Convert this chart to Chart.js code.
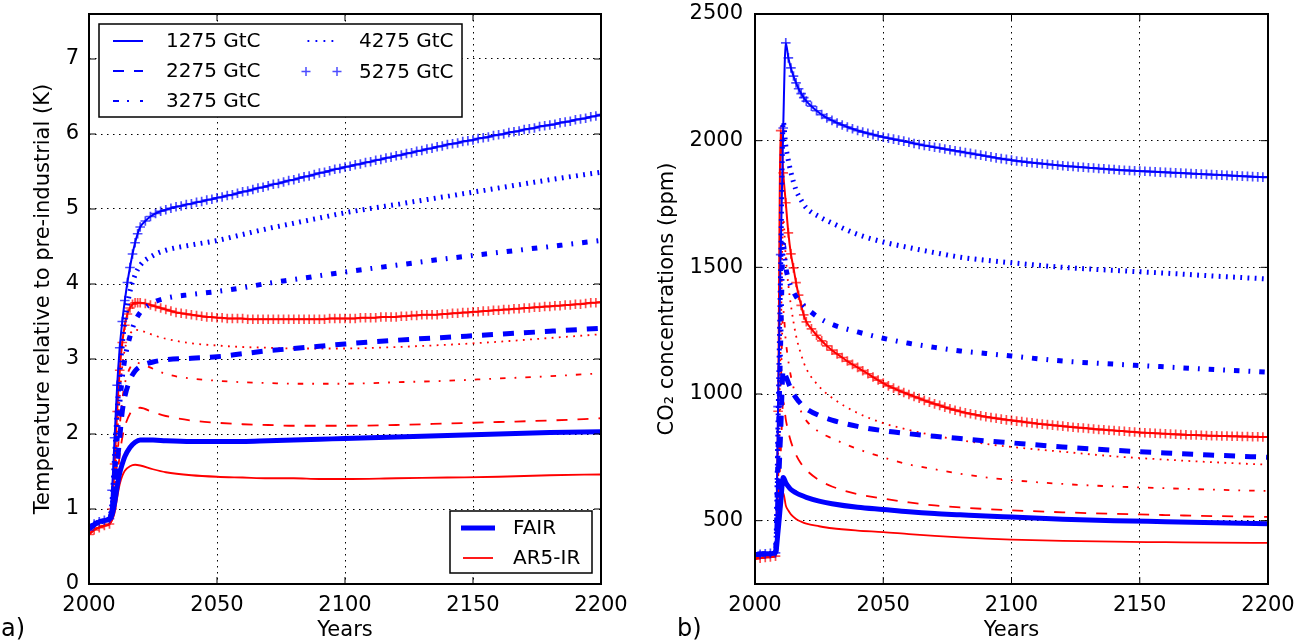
<!DOCTYPE html>
<html>
<head>
<meta charset="utf-8">
<script src="https://cdn.jsdelivr.net/npm/chart.js@4.4.1/dist/chart.umd.min.js"></script>
<style>
  html, body { margin: 0; padding: 0; background: #fff; }
  body { width: 1306px; height: 644px; position: relative; overflow: hidden; font-family: 'DejaVu Sans', sans-serif; }
  canvas { position: absolute; top: 0; }
  #left { left: 0; }
  #right { left: 650px; }
  .tag { position: absolute; font-size: 24px; line-height: 24px; color: #000; }
</style>
</head>
<body>
<canvas id="left" width="650" height="644"></canvas>
<canvas id="right" width="656" height="644"></canvas>
<div class="tag" style="left:1px; top:616px;">a)</div>
<div class="tag" style="left:677px; top:616px;">b)</div>
<script>
// Categories and ticks
const emissions = ['1275 GtC', '2275 GtC', '3275 GtC', '4275 GtC', '5275 GtC'];
const models = ['FAIR', 'AR5-IR'];
const xTicks = [2000, 2050, 2100, 2150, 2200];
const tempTicks = [0, 1, 2, 3, 4, 5, 6, 7];
const co2Ticks = [500, 1000, 1500, 2000, 2500];

// Years for the line scenarios
const years = [2000, 2004, 2008, 2009, 2010, 2011, 2012, 2013, 2014, 2016, 2018, 2020, 2025, 2030,
  2040, 2050, 2060, 2070, 2080, 2090, 2100, 2120, 2140, 2160, 2180, 2200];
// Years for the '+' marker scenario (5275 GtC)
const plusYears = [2000, 2002, 2004, 2006, 2008, 2009, 2010, 2011, 2012, 2013, 2014, 2015, 2016, 2017, 2018, 2019,
  2020, 2022, 2024, 2026, 2028, 2030, 2032, 2034, 2036, 2038,
  2040, 2042, 2044, 2046, 2048, 2050, 2052, 2054, 2056, 2058,
  2060, 2062, 2064, 2066, 2068, 2070, 2072, 2074, 2076, 2078,
  2080, 2082, 2084, 2086, 2088, 2090, 2092, 2094, 2096, 2098,
  2100, 2102, 2104, 2106, 2108, 2110, 2112, 2114, 2116, 2118,
  2120, 2122, 2124, 2126, 2128, 2130, 2132, 2134, 2136, 2138,
  2140, 2142, 2144, 2146, 2148, 2150, 2152, 2154, 2156, 2158,
  2160, 2162, 2164, 2166, 2168, 2170, 2172, 2174, 2176, 2178,
  2180, 2182, 2184, 2186, 2188, 2190, 2192, 2194, 2196, 2198, 2200];

// Temperature (K), FAIR
const tFair1275 = [0.74, 0.83, 0.87, 0.92, 1.08, 1.30, 1.48, 1.60, 1.70, 1.82, 1.89, 1.92, 1.92, 1.91, 1.90, 1.90, 1.90, 1.91, 1.92, 1.93, 1.94, 1.96, 1.98, 2.00, 2.02, 2.03];
const tFair2275 = [0.74, 0.83, 0.87, 0.97, 1.25, 1.60, 1.95, 2.30, 2.50, 2.72, 2.84, 2.90, 2.96, 2.99, 3.01, 3.03, 3.07, 3.11, 3.14, 3.17, 3.20, 3.25, 3.29, 3.33, 3.37, 3.41];
const tFair3275 = [0.74, 0.83, 0.87, 1.02, 1.45, 1.95, 2.40, 2.75, 3.00, 3.30, 3.50, 3.62, 3.75, 3.81, 3.86, 3.90, 3.95, 4.01, 4.06, 4.11, 4.16, 4.25, 4.34, 4.42, 4.50, 4.58];
const tFair4275 = [0.74, 0.83, 0.87, 1.10, 1.70, 2.30, 2.80, 3.20, 3.50, 3.90, 4.12, 4.25, 4.38, 4.45, 4.52, 4.58, 4.66, 4.74, 4.81, 4.88, 4.95, 5.06, 5.17, 5.28, 5.39, 5.49];
const tFair5275 = [0.72, 0.80, 0.83, 0.85, 0.87, 1.25, 1.95, 2.65, 3.15, 3.50, 3.78, 4.02, 4.22, 4.40, 4.55, 4.67,
  4.76, 4.84, 4.90, 4.94, 4.97, 4.99, 5.01, 5.03, 5.04, 5.06,
  5.07, 5.09, 5.10, 5.12, 5.13, 5.15, 5.16, 5.18, 5.19, 5.21,
  5.23, 5.24, 5.26, 5.28, 5.29, 5.31, 5.33, 5.34, 5.36, 5.38,
  5.39, 5.41, 5.43, 5.44, 5.46, 5.48, 5.49, 5.51, 5.53, 5.54,
  5.56, 5.57, 5.59, 5.60, 5.62, 5.63, 5.65, 5.66, 5.68, 5.69,
  5.71, 5.72, 5.74, 5.75, 5.77, 5.78, 5.80, 5.81, 5.83, 5.84,
  5.86, 5.87, 5.88, 5.90, 5.91, 5.92, 5.94, 5.95, 5.96, 5.98,
  5.99, 6.00, 6.02, 6.03, 6.04, 6.06, 6.07, 6.08, 6.10, 6.11,
  6.12, 6.13, 6.15, 6.16, 6.17, 6.19, 6.20, 6.21, 6.23, 6.24, 6.26];

// Temperature (K), AR5-IR
const tAr1275 = [0.67, 0.76, 0.80, 0.85, 0.95, 1.15, 1.33, 1.44, 1.51, 1.57, 1.59, 1.58, 1.53, 1.49, 1.45, 1.43, 1.42, 1.41, 1.41, 1.40, 1.40, 1.41, 1.42, 1.43, 1.45, 1.46];
const tAr2275 = [0.67, 0.76, 0.80, 0.86, 1.05, 1.40, 1.72, 1.95, 2.10, 2.27, 2.34, 2.35, 2.29, 2.24, 2.18, 2.15, 2.13, 2.12, 2.11, 2.11, 2.11, 2.12, 2.14, 2.16, 2.18, 2.21];
const tAr3275 = [0.67, 0.76, 0.80, 0.88, 1.15, 1.65, 2.10, 2.45, 2.67, 2.88, 2.95, 2.94, 2.87, 2.80, 2.74, 2.71, 2.69, 2.68, 2.67, 2.67, 2.67, 2.69, 2.71, 2.74, 2.77, 2.81];
const tAr4275 = [0.67, 0.76, 0.80, 0.90, 1.30, 1.95, 2.50, 2.90, 3.13, 3.33, 3.39, 3.38, 3.32, 3.27, 3.21, 3.18, 3.16, 3.15, 3.14, 3.14, 3.14, 3.16, 3.19, 3.23, 3.28, 3.33];
const tAr5275 = [0.66, 0.72, 0.75, 0.78, 0.80, 1.00, 1.60, 2.30, 2.85, 3.22, 3.45, 3.60, 3.68, 3.73, 3.75, 3.75,
  3.75, 3.74, 3.72, 3.70, 3.68, 3.66, 3.64, 3.62, 3.61, 3.60,
  3.59, 3.58, 3.57, 3.56, 3.56, 3.55, 3.55, 3.54, 3.54, 3.54,
  3.54, 3.53, 3.53, 3.53, 3.53, 3.53, 3.53, 3.53, 3.53, 3.53,
  3.53, 3.53, 3.53, 3.53, 3.53, 3.53, 3.53, 3.54, 3.54, 3.54,
  3.54, 3.54, 3.54, 3.55, 3.55, 3.55, 3.55, 3.56, 3.56, 3.56,
  3.56, 3.57, 3.57, 3.58, 3.58, 3.59, 3.59, 3.59, 3.59, 3.60,
  3.60, 3.61, 3.61, 3.62, 3.62, 3.63, 3.63, 3.64, 3.64, 3.65,
  3.65, 3.66, 3.66, 3.67, 3.67, 3.68, 3.68, 3.69, 3.69, 3.70,
  3.70, 3.71, 3.71, 3.72, 3.72, 3.73, 3.73, 3.74, 3.75, 3.75, 3.76];

// CO2 concentrations (ppm), FAIR
const cFair1275 = [366, 369, 373, 460, 570, 670, 650, 635, 623, 610, 600, 592, 577, 567, 553, 544, 535, 528, 523, 518, 514, 506, 500, 496, 492, 488];
const cFair2275 = [366, 369, 373, 600, 850, 1095, 1070, 1045, 1020, 985, 960, 942, 915, 897, 872, 855, 843, 833, 824, 815, 807, 791, 778, 767, 758, 750];
const cFair3275 = [366, 369, 373, 780, 1200, 1590, 1500, 1455, 1425, 1385, 1360, 1340, 1300, 1275, 1245, 1220, 1200, 1184, 1170, 1160, 1150, 1130, 1118, 1107, 1096, 1086];
const cFair4275 = [366, 369, 373, 900, 1500, 2075, 1980, 1922, 1875, 1805, 1765, 1735, 1700, 1675, 1630, 1600, 1578, 1558, 1540, 1528, 1518, 1500, 1488, 1477, 1465, 1454];
const cFair5275 = [366, 367, 369, 371, 373, 950, 1550, 2050, 2386, 2327, 2287, 2255, 2228, 2205, 2186, 2170,
  2156, 2136, 2118, 2103, 2090, 2080, 2070, 2062, 2054, 2047,
  2040, 2034, 2029, 2024, 2019, 2014, 2010, 2006, 2002, 1998,
  1994, 1989, 1985, 1981, 1978, 1974, 1971, 1967, 1964, 1960,
  1957, 1953, 1950, 1946, 1943, 1939, 1936, 1932, 1929, 1926,
  1923, 1920, 1918, 1915, 1913, 1911, 1909, 1907, 1905, 1903,
  1901, 1899, 1898, 1896, 1895, 1893, 1892, 1890, 1889, 1887,
  1886, 1884, 1883, 1882, 1881, 1880, 1879, 1878, 1877, 1876,
  1875, 1874, 1873, 1872, 1871, 1870, 1869, 1868, 1867, 1866,
  1865, 1864, 1863, 1862, 1861, 1860, 1859, 1858, 1857, 1856, 1856];

// CO2 concentrations (ppm), AR5-IR
const cAr1275 = [350, 355, 360, 450, 530, 611, 560, 540, 525, 507, 496, 488, 478, 470, 461, 455, 447, 440, 434, 429, 425, 420, 417, 415, 413, 412];
const cAr2275 = [350, 355, 360, 560, 760, 970, 900, 850, 812, 760, 725, 700, 660, 635, 605, 587, 572, 560, 552, 546, 541, 533, 527, 522, 518, 515];
const cAr3275 = [350, 355, 360, 650, 1000, 1330, 1210, 1130, 1070, 990, 930, 895, 850, 825, 783, 750, 722, 703, 685, 671, 660, 645, 635, 628, 622, 617];
const cAr4275 = [350, 355, 360, 750, 1200, 1690, 1540, 1430, 1350, 1230, 1155, 1100, 1030, 985, 925, 885, 858, 836, 818, 803, 791, 772, 754, 741, 730, 721];
const cAr5275 = [350, 352, 355, 357, 360, 932, 2040, 1873, 1755, 1636, 1553, 1498, 1440, 1390, 1350, 1312,
  1285, 1257, 1232, 1210, 1190, 1173, 1158, 1144, 1130, 1117,
  1105, 1092, 1080, 1067, 1055, 1043, 1032, 1023, 1014, 1006,
  998, 990, 983, 975, 968, 961, 955, 948, 942, 936,
  931, 926, 922, 918, 914, 910, 907, 904, 901, 898,
  896, 893, 891, 888, 886, 883, 881, 879, 877, 875,
  873, 871, 869, 867, 866, 864, 862, 860, 859, 857,
  856, 854, 853, 851, 850, 848, 847, 846, 845, 844,
  843, 842, 841, 840, 839, 838, 838, 837, 836, 835,
  835, 834, 834, 833, 833, 832, 832, 831, 831, 830, 830];

const BLUE = '#0000ff';
const RED = '#ff0000';
const BLUE_MARK = 'rgba(0, 0, 255, 0.7)';
const RED_MARK = 'rgba(255, 0, 0, 0.7)';
// solid, dashed, dash-dot, dotted, plus markers
const dashes = [[], [11, 10], [5.5, 9, 1.8, 9], [1.8, 5.4], []];
const legendDashes = [[], [11, 10], [6, 8, 2, 11], [1.8, 6.2], []];

Chart.defaults.font.family = "'DejaVu Sans', sans-serif";
Chart.defaults.font.size = 21;
Chart.defaults.color = '#000';

function series(xs, ys, k, thick) {
    const plus = k === 4;
    const color = thick ? BLUE : RED;
    return {
        label: emissions[k] + ' ' + (thick ? models[0] : models[1]),
        data: xs.map((x, i) => ({ x: x, y: ys[i] })),
        borderColor: color,
        backgroundColor: color,
        borderWidth: plus ? 2 : (thick ? 5 : 1.8),
        borderDash: dashes[k],
        pointStyle: 'cross',
        pointRadius: plus ? 4.8 : 0,
        pointBorderWidth: plus ? 1.7 : 0,
        pointBorderColor: thick ? BLUE_MARK : RED_MARK,
        pointHoverRadius: 0,
        cubicInterpolationMode: 'monotone',
        fill: false
    };
}

// frame, inward ticks and legend boxes (canvas coordinates)
const decorConfig = {
    left: {
        yTicks: tempTicks,
        boxes: [
            { x: 99, y: 24, w: 363, h: 93, items: [
                { k: 0, color: BLUE, width: 2, x0: 113, x1: 143, tx: 166, y: 41 },
                { k: 1, color: BLUE, width: 2, x0: 113, x1: 143, tx: 166, y: 71 },
                { k: 2, color: BLUE, width: 2, x0: 113, x1: 143, tx: 166, y: 101 },
                { k: 3, color: BLUE, width: 2, x0: 307.5, x1: 334, tx: 359, y: 41 },
                { k: 4, color: BLUE_MARK, width: 1.5, x0: 306, x1: 337, tx: 359, y: 71.5 }
            ] },
            { x: 450, y: 511, w: 142, h: 62, items: [
                { m: 0, color: BLUE, width: 5, x0: 461, x1: 495, tx: 513, y: 528 },
                { m: 1, color: RED, width: 1.8, x0: 463, x1: 493, tx: 513, y: 558 }
            ] }
        ]
    },
    right: { yTicks: co2Ticks, boxes: [] }
};

const decor = {
    id: 'decor',
    afterDraw(chart) {
        const cfg = decorConfig[chart.canvas.id];
        const { ctx, chartArea: a } = chart;
        const xs = chart.scales.x, ys = chart.scales.y;
        ctx.save();
        ctx.strokeStyle = '#000';
        ctx.lineWidth = 1;
        ctx.beginPath();
        xTicks.forEach(v => {
            const px = xs.getPixelForValue(v);
            ctx.moveTo(px, a.bottom); ctx.lineTo(px, a.bottom - 7);
            ctx.moveTo(px, a.top); ctx.lineTo(px, a.top + 7);
        });
        cfg.yTicks.forEach(v => {
            const py = ys.getPixelForValue(v);
            ctx.moveTo(a.left, py); ctx.lineTo(a.left + 7, py);
            ctx.moveTo(a.right, py); ctx.lineTo(a.right - 7, py);
        });
        ctx.stroke();
        ctx.lineWidth = 2;
        ctx.strokeRect(a.left, a.top, a.right - a.left, a.bottom - a.top);

        cfg.boxes.forEach(b => {
            ctx.fillStyle = '#fff';
            ctx.fillRect(b.x, b.y, b.w, b.h);
            ctx.strokeStyle = '#000';
            ctx.lineWidth = 1.5;
            ctx.strokeRect(b.x, b.y, b.w, b.h);
            ctx.font = "20px 'DejaVu Sans'";
            ctx.textBaseline = 'middle';
            ctx.textAlign = 'left';
            b.items.forEach(it => {
                ctx.strokeStyle = it.color;
                ctx.lineWidth = it.width;
                ctx.beginPath();
                if (it.k === 4) {
                    [it.x0, it.x1].forEach(cx => {
                        ctx.moveTo(cx - 4.5, it.y); ctx.lineTo(cx + 4.5, it.y);
                        ctx.moveTo(cx, it.y - 4.5); ctx.lineTo(cx, it.y + 4.5);
                    });
                    ctx.setLineDash([]);
                } else {
                    ctx.setLineDash(it.k !== undefined ? legendDashes[it.k] : []);
                    ctx.moveTo(it.x0, it.y); ctx.lineTo(it.x1, it.y);
                }
                ctx.stroke();
                ctx.setLineDash([]);
                ctx.fillStyle = '#000';
                const text = it.k !== undefined ? emissions[it.k] : models[it.m];
                ctx.fillText(text, it.tx, Math.round(it.y) + 1);
            });
        });
        ctx.restore();
    }
};

function scales(yMin, yMax, yTicks, yTitle, yWidth, titlePad, tickPad) {
    return {
        x: {
            type: 'linear', min: 2000, max: 2200,
            afterBuildTicks: s => { s.ticks = xTicks.map(v => ({ value: v })); },
            afterFit: s => { s.height = 60; s.paddingLeft = 0; s.paddingRight = 0; },
            grid: { color: '#000', lineWidth: 1, drawTicks: false },
            border: { display: false, dash: [1.5, 4.5] },
            ticks: { padding: 9, maxRotation: 0, autoSkip: false, callback: v => String(v) },
            title: { display: true, text: 'Years', padding: { top: 0, bottom: 1 } }
        },
        y: {
            type: 'linear', min: yMin, max: yMax,
            afterBuildTicks: s => { s.ticks = yTicks.map(v => ({ value: v })); },
            afterFit: s => { s.width = yWidth; s.paddingTop = 0; s.paddingBottom = 0; },
            grid: { color: '#000', lineWidth: 1, drawTicks: false },
            border: { display: false, dash: [1.5, 4.5] },
            ticks: { padding: tickPad, autoSkip: false, callback: v => String(v) },
            title: { display: true, text: yTitle, padding: { top: titlePad, bottom: 0 } }
        }
    };
}

function build(id, fair, ar5, yMin, yMax, yTicks, yTitle, yWidth, titlePad, tickPad, padRight) {
    const datasets = [];
    fair.forEach((ys, k) => datasets.push(series(k === 4 ? plusYears : years, ys, k, true)));
    ar5.forEach((ys, k) => datasets.push(series(k === 4 ? plusYears : years, ys, k, false)));
    return new Chart(document.getElementById(id), {
        type: 'line',
        data: { datasets: datasets },
        options: {
            responsive: false,
            animation: false,
            events: [],
            layout: { padding: { top: 14, right: padRight, left: 0, bottom: 0 } },
            plugins: { legend: { display: false }, tooltip: { enabled: false } },
            scales: scales(yMin, yMax, yTicks, yTitle, yWidth, titlePad, tickPad)
        },
        plugins: [decor]
    });
}

build('left',
    [tFair1275, tFair2275, tFair3275, tFair4275, tFair5275],
    [tAr1275, tAr2275, tAr3275, tAr4275, tAr5275],
    0, 7.6, tempTicks, 'Temperature relative to pre-industrial (K)', 89, 31, 10, 49);

build('right',
    [cFair1275, cFair2275, cFair3275, cFair4275, cFair5275],
    [cAr1275, cAr2275, cAr3275, cAr4275, cAr5275],
    250, 2500, co2Ticks, 'CO\u2082 concentrations (ppm)', 105, 5, 12, 38);
</script>
</body>
</html>
